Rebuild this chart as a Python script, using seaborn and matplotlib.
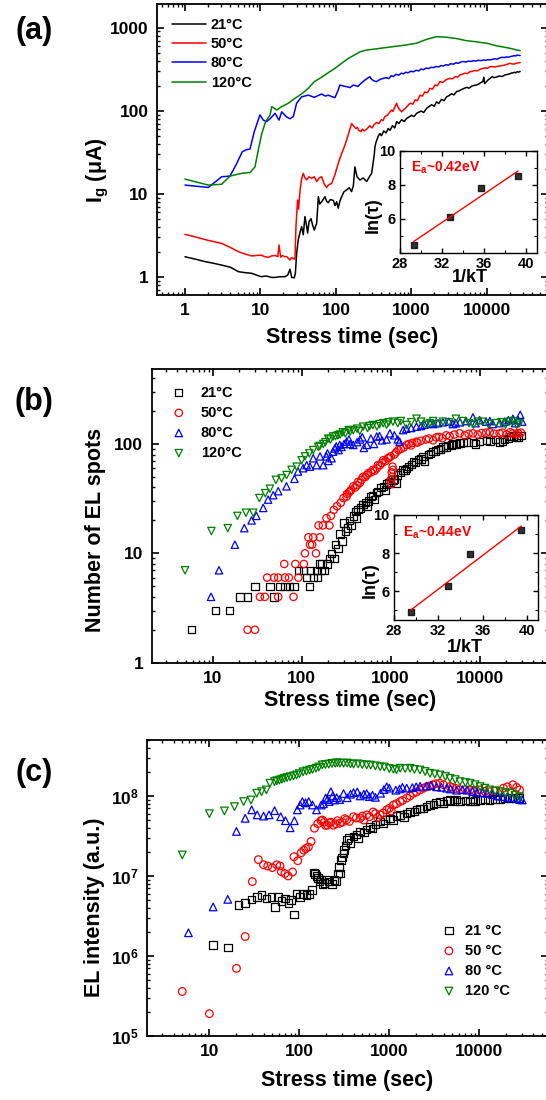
import matplotlib
matplotlib.use("Agg")
import matplotlib.pyplot as plt
import seaborn as sns
from matplotlib.ticker import NullFormatter, MultipleLocator

# ---------------- data ----------------
labels_ab = ["21°C", "50°C", "80°C", "120°C"]
labels_c = ["21 °C", "50 °C", "80 °C", "120 °C"]
colors = ["#000000", "#ff0000", "#0000ff", "#008000"]
markers = ["s", "o", "^", "v"]

# (a) gate current, uA
a_t21 = [1, 1.4, 1.84, 2.4, 3.06, 4, 5.1, 6.2, 7.6, 8.8,
         10.2, 12, 14, 15.6, 18, 21.1, 23, 24.6, 25.9, 28,
         29, 30.1, 31.6, 33.3, 35.1, 36.9, 38.8, 40.8, 42.1, 44,
         46.7, 49, 51.6, 55.5, 58.4, 61, 64.6, 68, 71.5, 75.2,
         79.1, 84, 92.3, 97, 102, 107, 113, 119, 127, 138,
         150, 161, 170, 178, 190, 208, 230, 255, 275, 297,
         315, 322, 328, 340, 350, 365, 383, 400, 430, 460,
         493, 520, 560, 600, 636, 680, 740, 800, 864, 930,
         1000, 1080, 1170, 1250, 1350, 1450, 1590, 1700, 1850, 2000,
         2150, 2300, 2500, 2700, 2920, 3150, 3400, 3650, 3960, 4300,
         4600, 5000, 5370, 5800, 6300, 6800, 7300, 7800, 8300, 8800,
         9100, 9300, 10400, 11000, 11700, 12500, 13500, 14500, 15900, 17000,
         18000, 19500, 20500, 22000, 23000, 24000, 25000, 26500, 27500]
a_v21 = [1.74, 1.62, 1.52, 1.45, 1.38, 1.3, 1.15, 1.12, 1.1, 1.05,
         1.0, 1.02, 0.98, 0.98, 1.0, 1.0, 1.05, 1.23, 0.98, 0.97,
         1.1, 1.9, 2.77, 3.4, 4.0, 3.2, 5.3, 4.1, 3.35, 4.6,
         5.0, 4.2, 3.65, 4.4, 9.2, 7.5, 8.0, 8.6, 9.2, 8.1,
         7.8, 8.5, 8.3, 7.2, 8.0, 6.7, 8.2, 9.2, 10.5, 11.1,
         11.8, 10.6, 12.5, 21, 16, 14.6, 15.5, 14, 15.8, 17.6,
         26, 30, 36.8, 42, 45, 50, 53, 50, 57, 54,
         61, 58, 66, 62, 74, 70, 78, 74, 81, 84,
         88, 85, 93, 96, 99, 95, 107, 112, 118, 113,
         128, 122, 137, 132, 147, 152, 160, 155, 170, 174,
         180, 186, 191, 187, 198, 202, 204, 210, 218, 224,
         253, 212, 236, 245, 257, 250, 255, 262, 258, 268,
         272, 276, 282, 286, 290, 286, 295, 292, 297]

a_t50 = [1, 1.4, 2, 3.06, 4, 5.1, 6.2, 7.6, 8.8, 10.2,
         11.5, 12.7, 14, 15.6, 17, 17.6, 18.5, 19.5, 21, 22.2,
         24.6, 26, 27.5, 28.6, 29.5, 31, 32, 33.3, 35, 36.9,
         38.8, 40.8, 44, 47.6, 51.6, 55.5, 60, 64.6, 70, 75.2,
         80, 87.7, 97, 102, 110, 119, 128, 138, 146, 153,
         161, 170, 183, 192, 200, 215, 225, 235, 248, 260,
         280, 300, 320, 345, 370, 400, 420, 445, 480, 510,
         545, 570, 600, 636, 660, 690, 740, 790, 840, 900,
         960, 1040, 1120, 1200, 1300, 1400, 1500, 1630, 1760, 1900,
         2050, 2200, 2380, 2600, 2800, 3000, 3240, 3500, 3800, 4100,
         4400, 4750, 5100, 5500, 5950, 6500, 7000, 7500, 8070, 8700,
         9400, 10100, 10900, 11800, 12800, 13800, 14800, 16000, 17200, 18600,
         20000, 21500, 23000, 25000, 27500]
a_v50 = [3.24, 3.0, 2.75, 2.52, 2.25, 2.0, 1.88, 1.78, 1.8, 1.82,
         1.74, 1.71, 1.78, 1.8, 1.75, 2.41, 1.72, 1.8, 1.74, 1.75,
         1.59, 1.7, 1.65, 1.62, 4.0, 8.4, 6.5, 10.6, 15, 17.6,
         15.5, 14.7, 16, 15.3, 16, 14, 15.5, 16, 13, 11.9,
         12.8, 13.3, 17, 20, 25, 30.7, 36, 44, 52, 60,
         70, 66, 61, 63, 58, 56, 60, 57, 59, 61,
         66, 62, 68, 72, 70, 78, 76, 85, 88, 95,
         102, 98, 110, 123, 112, 104, 97, 103, 108, 116,
         123, 120, 135, 132, 154, 150, 168, 165, 186, 182,
         204, 200, 224, 219, 232, 240, 245, 242, 258, 254,
         270, 276, 283, 280, 295, 300, 305, 302, 316, 322,
         328, 324, 338, 341, 336, 343, 345, 350, 355, 362,
         373, 366, 365, 375, 380]

a_t80 = [1, 2.04, 3.06, 3.95, 4.83, 5.74, 6.56, 7.26, 8.28, 9.84,
         10.9, 12.1, 13.4, 15.6, 17.6, 19.1, 22.2, 24.6, 27.2, 30.1,
         35.1, 43, 51.6, 58, 64.6, 72, 79.1, 88, 97, 105,
         113, 125, 138, 153, 170, 183, 196, 210, 225, 242,
         260, 280, 295, 310, 330, 345, 365, 385, 405, 423,
         460, 500, 540, 575, 620, 680, 730, 780, 840, 900,
         980, 1060, 1150, 1250, 1340, 1440, 1570, 1700, 1820, 1950,
         2100, 2300, 2450, 2650, 2850, 3100, 3300, 3580, 3900, 4200,
         4500, 4850, 5250, 5700, 6100, 6600, 7100, 7700, 8300, 8950,
         9600, 10300, 11000, 11700, 12700, 13700, 14800, 15900, 17000, 18000,
         19200, 20500, 21800, 23000, 24000, 25000, 26500, 27500]
a_v80 = [12.7, 11.9, 16, 16.3, 23, 32, 34, 34.5, 56, 89,
         77, 74, 80, 93, 77, 97, 84, 80, 85, 123,
         147, 154, 145, 152, 159, 150, 154, 148, 144, 170,
         204, 198, 195, 190, 204, 200, 196, 210, 222, 234,
         245, 257, 240, 232, 226, 224, 232, 238, 242, 245,
         250, 244, 264, 258, 274, 268, 283, 278, 291, 286,
         299, 294, 307, 302, 318, 312, 327, 322, 334, 330,
         341, 337, 350, 345, 358, 354, 368, 363, 378, 372,
         387, 391, 386, 396, 392, 400, 396, 405, 401, 408,
         404, 412, 409, 415, 422, 418, 434, 440, 436, 445,
         441, 449, 455, 460, 456, 468, 464, 462]

a_t120 = [1, 2.04, 3.06, 3.95, 5.63, 7.26, 8.45, 9.35, 10.4, 11.7,
          13.4, 14.1, 16.4, 19.1, 23.4, 28.6, 35, 43, 51.6, 64.6,
          79, 97, 119, 146, 175, 210, 255, 310, 383, 470,
          575, 700, 864, 1000, 1170, 1350, 1590, 1850, 2150, 2500,
          2920, 3400, 3960, 4600, 5370, 6300, 7300, 8500, 9900, 11500,
          13500, 15700, 18200, 21000, 25000, 27500]
a_v120 = [15, 12.7, 13, 16.3, 17.6, 18, 21, 33.6, 53, 74,
          89, 112, 102, 112, 123, 141, 159, 186, 224, 253,
          287, 324, 373, 427, 468, 514, 538, 550, 564, 578,
          592, 605, 621, 636, 651, 685, 724, 752, 780, 775,
          768, 752, 740, 718, 697, 686, 676, 662, 651, 628,
          604, 590, 575, 560, 538, 530]

# (a) inset
a_inv_kT = [29.3, 32.7, 35.7, 39.2]
a_ln_tau = [4.5, 6.1, 7.85, 8.5]

# (b) number of EL spots
b_t21 = [5.8, 10.8, 15.6, 20.3, 24.7, 29.9, 44, 49, 57, 65,
         73, 82, 92, 105, 114, 122, 126, 135, 147, 168,
         170, 195, 205, 218, 230, 240, 255, 270, 285, 300,
         330, 380, 430, 490, 560, 630, 720, 826, 950, 1060,
         1200, 1380, 1580, 1790, 2050, 2300, 2650, 2990, 3400, 3870,
         4400, 5000, 6000, 7080, 8500, 10000, 13000, 16700, 19000, 22500,
         26000, 29000,
         150, 160, 180, 310, 345, 360, 400, 410, 460, 520,
         540, 600, 660, 690, 780, 870, 900, 1000, 1100, 1150,
         1300, 1450, 1500, 1700, 1900, 2200, 2400, 2800, 3200, 3600,
         4200, 4800, 5500, 6500, 9000, 12000, 15000, 18000, 21000, 24000,
         27000]
b_n21 = [2, 3, 3, 4, 4, 5, 5, 4, 5, 5,
         5, 5, 7, 7, 6, 5, 7, 6, 7, 7,
         8, 8, 9, 10, 9, 12, 11, 15, 13, 19,
         17, 22, 25, 28, 30, 34, 37, 41, 44, 47,
         52, 58, 62, 69, 72, 77, 80, 85, 89, 94,
         97, 100, 102, 104, 103, 105, 106, 104, 110, 117,
         115, 120,
         6, 8, 7, 16, 20, 18, 24, 21, 26, 29,
         27, 33, 31, 36, 40, 38, 43, 45, 48, 44,
         55, 57, 60, 65, 68, 73, 70, 82, 86, 90,
         94, 98, 100, 103, 100, 108, 110, 106, 112, 118,
         114]

b_t50 = [24.7, 29.9, 34, 38.6, 41, 49, 54.6, 54.6, 63.8, 65,
         72, 81, 85, 92, 106, 109, 119, 124, 131, 135,
         145, 155, 160, 173, 190, 205, 213, 230, 250, 275,
         295, 323, 350, 380, 430, 490, 560, 630, 720, 826,
         930, 1000, 1020, 1040, 1060, 1220, 1510, 1750, 1950, 2500,
         3250, 4200, 5950, 8400, 11800, 16700, 20000, 23600, 29000,
         320, 340, 360, 400, 420, 450, 470, 520, 540, 600,
         660, 700, 760, 800, 880, 960, 1100, 1150, 1300, 1400,
         1600, 1700, 2000, 2200, 2700, 3000, 3500, 3800, 4600, 5200,
         6800, 7500, 9500, 10500, 13000, 14500, 18000, 22000, 26000, 27000,
         1000, 1030, 1050]
b_n50 = [2, 2, 4, 4, 6, 6, 4, 6, 8, 6,
         6, 4, 8, 6, 8, 10, 14, 12, 12, 14,
         10, 18, 14, 18, 21, 18, 22, 25, 27, 29,
         32, 35, 37, 41, 45, 50, 54, 58, 64, 71,
         74, 77, 43, 50, 58, 88, 98, 102, 105, 110,
         115, 120, 125, 125, 127, 125, 122, 125, 127,
         33, 36, 38, 40, 42, 44, 47, 50, 52, 55,
         57, 60, 64, 67, 70, 75, 80, 84, 90, 93,
         100, 97, 103, 107, 112, 108, 116, 113, 118, 122,
         120, 124, 122, 126, 128, 124, 127, 128, 122, 126,
         47, 55, 62]

b_t80 = [9.6, 11.8, 17.8, 22.7, 27.4, 31, 37, 42, 48, 54.6,
         67.6, 83, 91, 104, 114, 124, 135, 147, 161, 175,
         190, 217, 236, 268, 300, 340, 380, 452, 540, 697,
         900, 980, 1260, 1380, 1950, 2760, 3870, 5400, 8400, 11800,
         16700, 23600, 28500, 30000,
         195, 200, 225, 245, 260, 280, 320, 350, 420, 480,
         500, 600, 650, 750, 800, 1100, 1200, 1500, 1700, 2200,
         2400, 3000, 3400, 4500, 5000, 6000, 7000, 9000, 10000, 13000,
         14000, 19000, 21000, 25000, 27000]
b_n80 = [4, 7, 12, 17, 20, 22, 26, 31, 34, 37,
         41, 48, 56, 60, 64, 62, 74, 64, 77, 64,
         77, 74, 91, 98, 100, 110, 98, 110, 98, 117,
         110, 125, 105, 134, 144, 155, 158, 155, 175, 160,
         155, 170, 185, 160,
         82, 70, 85, 95, 88, 94, 105, 100, 104, 115,
         92, 112, 100, 118, 108, 120, 110, 138, 140, 146,
         150, 152, 155, 160, 152, 158, 162, 155, 165, 162,
         152, 160, 165, 155, 165]

b_t120 = [4.9, 9.7, 14.8, 19, 23.7, 28.6, 33.5, 39, 44, 51.4,
          59.6, 67.8, 77, 88, 100, 109, 122, 135, 154, 175,
          199, 225, 255, 290, 338, 380, 490, 630, 826, 1060,
          1510, 1950, 2760, 3870, 5400, 7600, 10800, 15300, 21600, 28000,
          160, 185, 210, 240, 270, 310, 350, 420, 450, 550,
          580, 700, 750, 900, 950, 1200, 1300, 1700, 2200, 2500,
          3000, 3400, 4500, 6500, 8500, 9500, 12500, 17500, 19500, 24000,
          26000]
b_n120 = [7, 16, 17, 22, 23.5, 23.5, 32, 35.5, 39, 47,
          48.5, 52, 58, 62, 71, 77, 82, 88, 94, 100,
          112, 117, 120, 128, 134, 134, 144, 149, 155, 160,
          149, 170, 155, 160, 170, 155, 160, 155, 160, 155,
          96, 104, 110, 118, 122, 125, 130, 138, 132, 140,
          146, 145, 152, 150, 158, 155, 162, 158, 160, 150,
          162, 152, 158, 162, 150, 160, 152, 158, 150, 162,
          150]

# (b) inset
b_inv_kT = [29.5, 32.9, 34.9, 39.5]
b_ln_tau = [4.9, 6.3, 7.95, 9.2]

# (c) EL intensity, a.u.
c_t21 = [11, 16, 21, 24.9, 29.5, 33.6, 38, 43, 49, 53.7,
         58, 63, 69, 76, 81, 87, 93, 101, 110, 120,
         130, 138, 145, 155, 167, 190, 215, 245, 268, 283,
         292, 310, 315, 336, 400, 474, 611, 790, 1020, 1320,
         1700, 2190, 2830, 3650, 4720, 6100, 7900, 10200, 13000, 17000,
         22000, 28000,
         150, 160, 175, 180, 200, 230, 255, 275, 300, 325,
         350, 370, 430, 450, 520, 560, 650, 700, 850, 900,
         1100, 1200, 1450, 1550, 1900, 2000, 2400, 2600, 3100, 3300,
         4000, 4300, 5300, 5600, 7000, 8500, 9000, 11500, 15000, 19000,
         25000]
c_i21 = [1.37e6, 1.28e6, 4.35e6, 4.6e6, 5.1e6, 5.5e6, 5.76e6, 5.2e6, 5.5e6, 4.1e6,
         5.5e6, 4.9e6, 5.2e6, 4.6e6, 5.0e6, 3.3e6, 6.0e6, 5.5e6, 6.0e6, 5.8e6,
         6.0e6, 6.7e6, 1.1e7, 1.0e7, 8.5e6, 8.2e6, 8.5e6, 8.9e6, 1.07e7, 1.07e7,
         1.58e7, 1.9e7, 2.1e7, 2.8e7, 3.1e7, 3.6e7, 4.1e7, 4.8e7, 5.25e7, 5.8e7,
         6.3e7, 7.0e7, 7.7e7, 8.5e7, 8.9e7, 8.5e7, 8.5e7, 8.9e7, 8.9e7, 9.0e7,
         9.35e7, 9.35e7,
         1.05e7, 9.5e6, 9.0e6, 8.0e6, 9.0e6, 8.0e6, 8.6e6, 1.3e7, 1.7e7, 2.4e7,
         3.0e7, 2.6e7, 3.3e7, 3.0e7, 3.5e7, 3.8e7, 3.9e7, 4.4e7, 4.5e7, 5.0e7,
         5.0e7, 5.6e7, 5.5e7, 6.0e7, 6.4e7, 6.8e7, 7.0e7, 7.4e7, 7.8e7, 8.2e7,
         8.0e7, 8.7e7, 8.7e7, 9.0e7, 8.8e7, 9.2e7, 8.6e7, 9.0e7, 9.2e7, 9.3e7,
         9.5e7]

c_t50 = [5, 10, 20, 25, 30, 35, 40, 44.5, 50, 56,
         61, 63, 69, 75, 84, 87, 96, 105, 112, 118,
         126, 135, 147, 160, 174, 190, 205, 224, 255, 283,
         336, 400, 474, 560, 660, 790, 935, 1110, 1320, 1560,
         1850, 2190, 2590, 3060, 3650, 4720, 6100, 7900, 10200, 13000,
         18500, 23600, 28000,
         180, 195, 215, 240, 265, 300, 320, 360, 430, 500,
         520, 600, 700, 740, 850, 1000, 1050, 1200, 1400, 1700,
         2000, 2400, 2800, 3300, 4000, 5000, 5500, 7000, 8800, 11500,
         15000, 20500, 26000]
c_i50 = [3.6e5, 1.9e5, 7.0e5, 1.75e6, 8.5e6, 1.6e7, 1.38e7, 1.33e7, 1.27e7, 1.38e7,
         1.33e7, 1.13e7, 1.07e7, 1.0e7, 1.12e7, 1.74e7, 1.55e7, 1.95e7, 2.1e7, 2.2e7,
         2.3e7, 2.7e7, 3.95e7, 4.5e7, 4.9e7, 4.7e7, 4.3e7, 4.7e7, 4.5e7, 4.56e7,
         5.0e7, 5.5e7, 5.25e7, 5.8e7, 6.3e7, 5.8e7, 6.7e7, 7.7e7, 8.5e7, 9.4e7,
         1.08e8, 1.19e8, 1.3e8, 1.38e8, 1.44e8, 1.31e8, 1.19e8, 1.19e8, 1.19e8, 1.13e8,
         1.25e8, 1.38e8, 1.19e8,
         5.0e7, 4.3e7, 4.6e7, 4.3e7, 4.9e7, 4.7e7, 5.2e7, 4.8e7, 5.3e7, 5.6e7,
         5.0e7, 5.5e7, 6.0e7, 5.4e7, 6.1e7, 7.0e7, 6.5e7, 8.0e7, 8.8e7, 1.0e8,
         1.12e8, 1.25e8, 1.33e8, 1.42e8, 1.38e8, 1.28e8, 1.24e8, 1.2e8, 1.17e8, 1.14e8,
         1.15e8, 1.3e8, 1.28e8]

c_t80 = [5.85, 11, 16, 20, 25, 29.5, 34, 40, 46, 53,
         62, 70, 79, 88, 95, 102, 108, 117, 127, 140,
         155, 175, 196, 224, 248, 310, 400, 474, 560, 700,
         935, 1180, 1560, 1990, 2590, 3350, 4340, 5600, 7300, 9400,
         12200, 15800, 20500, 26000, 30000,
         185, 205, 215, 235, 260, 280, 340, 370, 440, 520,
         600, 650, 800, 870, 1000, 1300, 1400, 1800, 2200, 2900,
         3800, 4800, 6500, 8400, 10800, 14000, 18000, 23000, 28000]
c_i80 = [1.95e6, 4.1e6, 5.1e6, 3.6e7, 5.25e7, 6.7e7, 5.8e7, 5.6e7, 5.8e7, 6.55e7,
         5.5e7, 4.9e7, 4.0e7, 4.9e7, 6.7e7, 7.7e7, 8.5e7, 8.2e7, 8.5e7, 7.7e7,
         6.7e7, 7.7e7, 9.4e7, 1.13e8, 8.9e7, 1.07e8, 1.1e8, 1.0e8, 1.07e8, 9.6e7,
         1.3e8, 1.18e8, 1.25e8, 1.3e8, 1.33e8, 1.3e8, 1.25e8, 1.18e8, 1.18e8, 1.1e8,
         1.07e8, 1.0e8, 9.6e7, 9.35e7, 8.9e7,
         8.0e7, 9.0e7, 8.5e7, 1.0e8, 9.5e7, 9.0e7, 9.5e7, 1.05e8, 1.12e8, 1.05e8,
         9.8e7, 1.02e8, 1.08e8, 1.2e8, 1.25e8, 1.22e8, 1.28e8, 1.27e8, 1.32e8, 1.35e8,
         1.28e8, 1.22e8, 1.2e8, 1.14e8, 1.1e8, 1.04e8, 9.8e7, 9.5e7, 9.0e7]

c_t120 = [5, 10, 14.7, 19, 24, 29, 33.6, 38, 43, 47,
          53, 60, 68, 79, 93, 110, 130, 153, 180, 212,
          250, 283, 400, 560, 790, 1110, 1320, 1700, 2190, 2830,
          3650, 4720, 6100, 7900, 10200, 13000, 17000, 22000, 28000,
          56, 64, 73, 86, 100, 120, 140, 165, 195, 230,
          265, 310, 340, 370, 450, 500, 620, 700, 880, 1000,
          1200, 1500, 1900, 2500, 3200, 4200, 5400, 7000, 9000, 11500,
          15000, 19500, 25000]
c_i120 = [1.83e7, 6.0e7, 6.5e7, 7.35e7, 8.5e7, 8.9e7, 1.08e8, 1.13e8, 1.19e8, 1.44e8,
          1.51e8, 1.58e8, 1.66e8, 1.74e8, 1.83e8, 2.0e8, 2.11e8, 2.22e8, 2.44e8, 2.5e8,
          2.57e8, 2.57e8, 2.5e8, 2.44e8, 2.32e8, 2.16e8, 2.22e8, 2.22e8, 2.11e8, 1.92e8,
          1.83e8, 1.66e8, 1.51e8, 1.44e8, 1.31e8, 1.19e8, 1.13e8, 1.08e8, 9.8e7,
          1.55e8, 1.62e8, 1.7e8, 1.78e8, 1.9e8, 2.05e8, 2.15e8, 2.3e8, 2.47e8, 2.55e8,
          2.6e8, 2.56e8, 2.58e8, 2.52e8, 2.52e8, 2.47e8, 2.43e8, 2.38e8, 2.3e8, 2.2e8,
          2.12e8, 2.2e8, 2.15e8, 2.02e8, 1.88e8, 1.75e8, 1.6e8, 1.47e8, 1.38e8, 1.25e8,
          1.16e8, 1.1e8, 1.02e8]

# ---------------- style ----------------
sns.set_theme(style="ticks", rc={"axes.edgecolor": "black", "xtick.color": "black",
                                 "ytick.color": "black", "text.color": "black",
                                 "axes.labelcolor": "black"})
plt.rcParams["font.family"] = ["Liberation Sans", "DejaVu Sans"]
plt.rcParams["font.weight"] = "bold"
plt.rcParams["axes.labelweight"] = "bold"
plt.rcParams["mathtext.fontset"] = "custom"
plt.rcParams["mathtext.rm"] = "Liberation Sans:bold"
plt.rcParams["mathtext.it"] = "Liberation Sans:bold"
plt.rcParams["mathtext.bf"] = "Liberation Sans:bold"

fig = plt.figure(figsize=(5.46, 11), dpi=100)
W, H = 546.0, 1100.0


def axes_px(left, right, top, bottom):
    return fig.add_axes([left / W, 1 - bottom / H, (right - left) / W, (bottom - top) / H])


def style_main(ax, xlim, ylim, xt, yt, ytl):
    ax.set_xscale("log")
    ax.set_yscale("log")
    ax.set_xlim(xlim)
    ax.set_ylim(ylim)
    ax.set_xticks(xt, labels=[str(v) for v in xt])
    ax.set_yticks(yt, labels=ytl)
    ax.xaxis.set_minor_formatter(NullFormatter())
    ax.yaxis.set_minor_formatter(NullFormatter())
    ax.tick_params(which="both", direction="in", top=True, right=True)
    ax.tick_params(which="major", length=5, width=1.2, labelsize=12.5, pad=6)
    ax.tick_params(which="minor", length=2.5, width=1)
    for s in ax.spines.values():
        s.set_linewidth(1.3)
    ax.set_xlabel("Stress time (sec)", fontsize=15.5)


def style_inset(ax, ylim):
    ax.set_xlim(28, 41)
    ax.set_ylim(ylim)
    ax.set_xticks([28, 32, 36, 40])
    ax.set_yticks([6, 8, 10])
    ax.xaxis.set_minor_locator(MultipleLocator(2))
    ax.yaxis.set_minor_locator(MultipleLocator(1))
    ax.tick_params(which="both", direction="in", top=True, right=True)
    ax.tick_params(which="major", length=3.5, width=1, labelsize=10.5, pad=3)
    ax.tick_params(which="minor", length=2, width=0.8)
    for s in ax.spines.values():
        s.set_linewidth(1.0)
    ax.set_xlabel("1/kT", fontsize=13)
    ax.set_ylabel("ln(τ)", fontsize=13)


def place_labels(ax, xy_x, xy_y):
    ax.xaxis.label.set_va("center")
    ax.xaxis.set_label_coords(*xy_x)
    ax.yaxis.label.set_va("center")
    ax.yaxis.set_label_coords(*xy_y)


leg_kw = dict(loc="upper left", frameon=False, borderpad=0, borderaxespad=0,
              prop={"size": 10.5, "weight": "bold"})

# ---------------- (a) ----------------
ax_a = axes_px(157, 548, 4, 295)
style_main(ax_a, (0.426, 64300), (0.602, 1930), [1, 10, 100, 1000, 10000],
           [1, 10, 100, 1000], ["1", "10", "100", "1000"])
for t, v, c, lab in zip([a_t21, a_t50, a_t80, a_t120], [a_v21, a_v50, a_v80, a_v120],
                        colors, labels_ab):
    sns.lineplot(x=t, y=v, color=c, lw=1.1, label=lab, estimator=None, sort=False, ax=ax_a)
ax_a.legend(bbox_to_anchor=(0.0386, 0.952), handlelength=2.3, handletextpad=0.35,
            labelspacing=0.36, **leg_kw)
ax_a.set_ylabel("I$_{g}$ (μA)", fontsize=15.5)
place_labels(ax_a, (0.5, -0.146), (-0.151, 0.43))

ins_a = axes_px(400, 537, 151, 253)
sns.regplot(x=a_inv_kT, y=a_ln_tau, ci=None, marker="s", color="black",
            scatter_kws={"s": 13}, line_kws={"color": "red", "lw": 1.0}, ax=ins_a)
style_inset(ins_a, (4, 10))
ins_a.text(0.08, 0.84, "E$_{a}$~0.42eV", color="red", fontsize=10,
           transform=ins_a.transAxes, va="center")
place_labels(ins_a, (0.51, -0.245), (-0.197, 0.37))

# ---------------- (b) ----------------
ax_b = axes_px(151.7, 548, 368.5, 662.7)
style_main(ax_b, (2.07, 58500), (1, 490), [10, 100, 1000, 10000],
           [1, 10, 100], ["1", "10", "100"])
for t, v, c, m, lab in zip([b_t21, b_t50, b_t80, b_t120], [b_n21, b_n50, b_n80, b_n120],
                           colors, markers, labels_ab):
    sns.scatterplot(x=t, y=v, marker=m, s=28, facecolor="none", edgecolor=c, color=c,
                    linewidth=0.9, label=lab, ax=ax_b)
ax_b.legend(bbox_to_anchor=(0.05, 0.942), handlelength=1.0, handletextpad=1.0,
            labelspacing=0.42, **leg_kw)
ax_b.set_ylabel("Number of EL spots", fontsize=15.5)
place_labels(ax_b, (0.5, -0.129), (-0.143, 0.451))

ins_b = axes_px(394, 538, 515, 620)
sns.regplot(x=b_inv_kT, y=b_ln_tau, ci=None, marker="s", color="black",
            scatter_kws={"s": 13}, line_kws={"color": "red", "lw": 1.0}, ax=ins_b)
style_inset(ins_b, (4.5, 10))
ins_b.text(0.06, 0.83, "E$_{a}$~0.44eV", color="red", fontsize=10,
           transform=ins_b.transAxes, va="center")
place_labels(ins_b, (0.49, -0.262), (-0.167, 0.38))

# ---------------- (c) ----------------
ax_c = axes_px(146.7, 548, 740, 1036)
style_main(ax_c, (2.01, 58000), (1e5, 5e8), [10, 100, 1000, 10000],
           [1e5, 1e6, 1e7, 1e8], ["$10^{5}$", "$10^{6}$", "$10^{7}$", "$10^{8}$"])
for t, v, c, m, lab in zip([c_t21, c_t50, c_t80, c_t120], [c_i21, c_i50, c_i80, c_i120],
                           colors, markers, labels_c):
    sns.scatterplot(x=t, y=v, marker=m, s=30, facecolor="none", edgecolor=c, color=c,
                    linewidth=0.9, label=lab, ax=ax_c)
ax_c.legend(bbox_to_anchor=(0.735, 0.38), handlelength=1.0, handletextpad=0.6,
            labelspacing=0.42, **leg_kw)
ax_c.set_ylabel("EL intensity (a.u.)", fontsize=15.5)
place_labels(ax_c, (0.5, -0.149), (-0.129, 0.436))

# panel letters
for lab, y in zip(["(a)", "(b)", "(c)"], [31, 402, 773]):
    fig.text(34 / W, 1 - y / H, lab, fontsize=22, fontweight="bold", ha="center", va="center")

fig.savefig("out.png", dpi=100)
